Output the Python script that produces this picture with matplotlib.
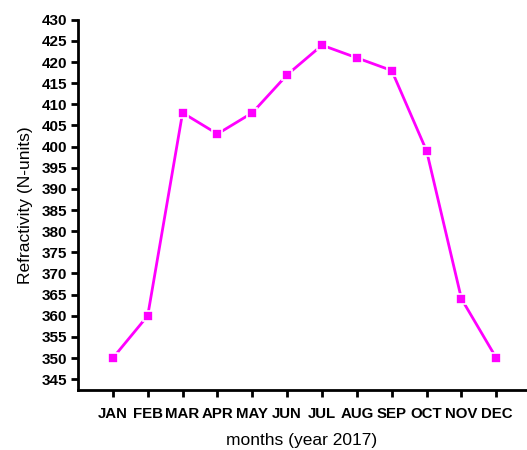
import matplotlib
matplotlib.use("Agg")
import matplotlib.pyplot as plt

plt.rcParams['font.family'] = ['Liberation Sans', 'DejaVu Sans']

# monthly refractivity, 2017
months = ["JAN", "FEB", "MAR", "APR", "MAY", "JUN",
          "JUL", "AUG", "SEP", "OCT", "NOV", "DEC"]
refractivity = [350, 360, 408, 403, 408, 417, 424, 421, 418, 399, 364, 350]
yticks = list(range(345, 431, 5))

fig = plt.figure(figsize=(5.27, 4.5), dpi=100)
ax = fig.add_axes([0.148, 0.133, 0.85, 0.823])

x = list(range(1, len(months) + 1))
ax.plot(x, refractivity, color="#FF00FF", lw=2, marker="s", ms=7.5,
        mfc="#FF00FF", mec="white", mew=1.2)

ax.set_xlim(0, 12.85)
ax.set_ylim(342.4, 430)
ax.set_xticks(x)
ax.set_xticklabels(months)
ax.set_yticks(yticks)

for s in ["top", "right"]:
    ax.spines[s].set_visible(False)
for s in ["left", "bottom"]:
    ax.spines[s].set_linewidth(2)

ax.tick_params(direction="out", length=5, width=2)
ax.tick_params(axis="x", pad=7)
ax.tick_params(axis="y", pad=3)
for lab in ax.get_xticklabels():
    lab.set_fontweight("bold")
    lab.set_fontsize(10.8)
for lab in ax.get_yticklabels():
    lab.set_fontweight("bold")
    lab.set_fontsize(11)

ax.set_xlabel("months (year 2017)", fontsize=12.5, labelpad=9)
ax.set_ylabel("Refractivity (N-units)", fontsize=12.5, labelpad=6)

fig.savefig("out.png", dpi=100)
